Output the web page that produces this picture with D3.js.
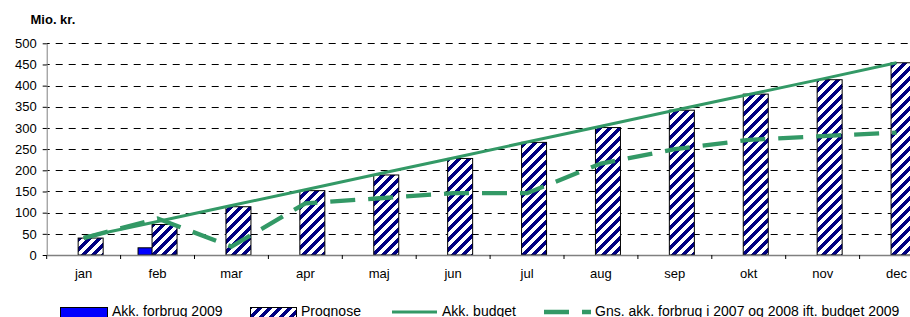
<!DOCTYPE html>
<html>
<head>
<meta charset="utf-8">
<script src="https://cdn.jsdelivr.net/npm/d3@7"></script>
<style>
  body { margin: 0; background: #fff; }
  svg { display: block; font-family: "Liberation Sans", Arial, sans-serif; }
</style>
</head>
<body>
<script>
const months = ["jan", "feb", "mar", "apr", "maj", "jun", "jul", "aug", "sep", "okt", "nov", "dec"];
const forbrug2009 = [null, 17, null, null, null, null, null, null, null, null, null, null];
const prognose = [40, 72, 114, 152, 189, 228, 266, 301, 342, 380, 414, 454];
const budget = [42, 79, 117, 154, 192, 229, 267, 304, 342, 379, 416, 454];
const gnsForbrug = [40, 86, 20, 122, 134, 146, 146, 216, 250, 272, 281, 289];
const yTicks = [0, 50, 100, 150, 200, 250, 300, 350, 400, 450, 500];

const width = 910;
const height = 317;
const marginLeft = 46.7;
const plotBottom = 255;
const plotTop = 43.3;
const green = "#339966";

const svg = d3.select("body")
  .append("svg")
  .attr("width", width)
  .attr("height", height);

// wide upward diagonal fill
const defs = svg.append("defs");
const pat = defs.append("pattern")
  .attr("id", "stripes")
  .attr("patternUnits", "userSpaceOnUse")
  .attr("width", 10)
  .attr("height", 10);
pat.append("rect").attr("width", 10).attr("height", 10).attr("fill", "#fff");
pat.append("path")
  .attr("d", "M0,5 L5,0 L10,0 L0,10 Z M10,5 L10,10 L5,10 Z")
  .attr("fill", "#000080")
  .attr("shape-rendering", "crispEdges");

const xScale = d3.scaleBand()
  .domain(months)
  .range([marginLeft, marginLeft + 12 * 73.9])
  .padding(0);

const yScale = d3.scaleLinear()
  .domain([0, 500])
  .range([plotBottom, plotTop]);

const bw = xScale.bandwidth();
const barW = 25;
const center = m => xScale(m) + bw / 2;

// gridlines
svg.append("g")
  .selectAll("line")
  .data(yTicks.filter(d => d > 0))
  .enter()
  .append("line")
  .attr("x1", marginLeft)
  .attr("x2", width)
  .attr("y1", d => Math.round(yScale(d)) + 0.5)
  .attr("y2", d => Math.round(yScale(d)) + 0.5)
  .attr("stroke", "#000")
  .attr("stroke-dasharray", "7,6")
  .attr("stroke-dashoffset", -9);

// y axis
const yAxis = d3.axisLeft(yScale)
  .tickValues(yTicks)
  .tickSize(4)
  .tickPadding(6)
  .tickSizeOuter(0);

const yg = svg.append("g")
  .attr("transform", `translate(${marginLeft}, 0)`)
  .call(yAxis);
yg.select(".domain").attr("stroke", "#808080");
yg.selectAll(".tick line").attr("stroke", "#000");
yg.selectAll(".tick text")
  .attr("font-size", 13)
  .attr("font-family", "Liberation Sans, Arial, sans-serif")
  .attr("fill", "#000");

// bars: Akk. forbrug 2009
svg.append("g")
  .selectAll("rect")
  .data(months.map((m, i) => ({ m, v: forbrug2009[i] })).filter(d => d.v != null))
  .enter()
  .append("rect")
  .attr("x", d => center(d.m) - 19.5)
  .attr("y", d => yScale(d.v))
  .attr("width", barW)
  .attr("height", d => yScale(0) - yScale(d.v))
  .attr("fill", "#0000ff")
  .attr("stroke", "#000")
  .attr("stroke-width", 1);

// bars: Prognose
svg.append("g")
  .selectAll("rect")
  .data(months.map((m, i) => ({ m, v: prognose[i] })))
  .enter()
  .append("rect")
  .attr("x", d => center(d.m) - 5.5)
  .attr("y", d => yScale(d.v))
  .attr("width", barW)
  .attr("height", d => yScale(0) - yScale(d.v))
  .attr("fill", "url(#stripes)")
  .attr("stroke", "#000")
  .attr("stroke-width", 1);

// x axis
const xAxis = d3.axisBottom(xScale)
  .tickSize(0)
  .tickPadding(14)
  .tickSizeOuter(0);
const xg = svg.append("g")
  .attr("transform", `translate(0, ${plotBottom})`)
  .call(xAxis);
xg.select(".domain").attr("stroke", "#808080").attr("stroke-width", 1.5);
xg.selectAll(".tick text")
  .attr("font-size", 13)
  .attr("font-family", "Liberation Sans, Arial, sans-serif")
  .attr("fill", "#000");
// category boundary ticks
xg.append("g")
  .selectAll("line")
  .data(months)
  .enter()
  .append("line")
  .attr("x1", d => xScale(d))
  .attr("x2", d => xScale(d))
  .attr("y1", 0)
  .attr("y2", 4)
  .attr("stroke", "#000");

// lines
const line = d3.line()
  .x(d => center(d.m))
  .y(d => yScale(d.v));

svg.append("path")
  .datum(months.map((m, i) => ({ m, v: gnsForbrug[i] })))
  .attr("d", line)
  .attr("fill", "none")
  .attr("stroke", green)
  .attr("stroke-width", 4.3)
  .attr("stroke-dasharray", "25,13");

svg.append("path")
  .datum(months.map((m, i) => ({ m, v: budget[i] })))
  .attr("d", line)
  .attr("fill", "none")
  .attr("stroke", green)
  .attr("stroke-width", 3);

// title
svg.append("text")
  .attr("x", 30.5)
  .attr("y", 24)
  .attr("font-size", 13)
  .attr("font-weight", "bold")
  .text("Mio. kr.");

// legend
const legend = svg.append("g").attr("font-size", 14);
legend.append("rect")
  .attr("x", 60.5).attr("y", 307.5).attr("width", 47).attr("height", 10)
  .attr("fill", "#0000ff").attr("stroke", "#000");
legend.append("text").attr("x", 112).attr("y", 315.5).text("Akk. forbrug 2009");

legend.append("rect")
  .attr("x", 250.5).attr("y", 307.5).attr("width", 46).attr("height", 10)
  .attr("fill", "url(#stripes)").attr("stroke", "#000");
legend.append("text").attr("x", 301).attr("y", 315.5).text("Prognose");

legend.append("line")
  .attr("x1", 392).attr("x2", 437).attr("y1", 312).attr("y2", 312)
  .attr("stroke", green).attr("stroke-width", 3);
legend.append("text").attr("x", 442).attr("y", 315.5).text("Akk. budget");

legend.append("line")
  .attr("x1", 544).attr("x2", 591).attr("y1", 312).attr("y2", 312)
  .attr("stroke", green).attr("stroke-width", 4.3)
  .attr("stroke-dasharray", "25,13");
legend.append("text").attr("x", 595).attr("y", 315.5)
  .text("Gns. akk. forbrug i 2007 og 2008 ift. budget 2009");
</script>
</body>
</html>
